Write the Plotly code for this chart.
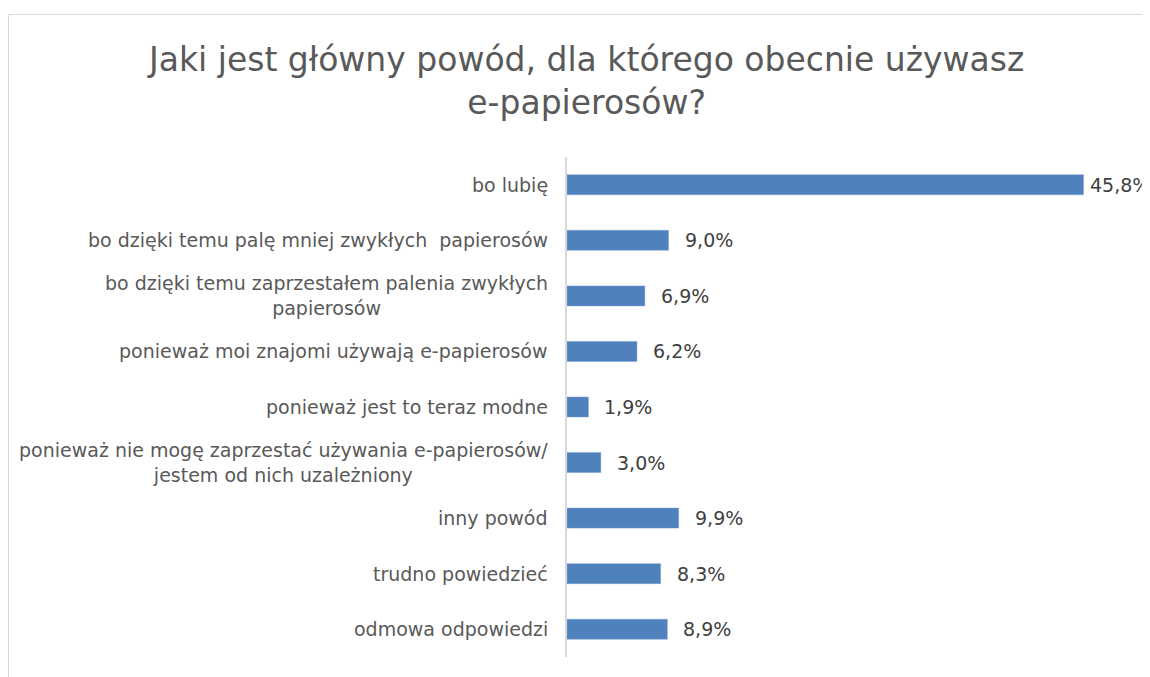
import plotly.graph_objects as go

title_text = "Jaki jest główny powód, dla którego obecnie używasz<br>e-papierosów?"
categories = [
    "bo lubię",
    "bo dzięki temu palę mniej zwykłych  papierosów",
    "bo dzięki temu zaprzestałem palenia zwykłych<br>papierosów",
    "ponieważ moi znajomi używają e-papierosów",
    "ponieważ jest to teraz modne",
    "ponieważ nie mogę zaprzestać używania e-papierosów/<br>jestem od nich uzależniony",
    "inny powód",
    "trudno powiedzieć",
    "odmowa odpowiedzi",
]
values = [45.8, 9.0, 6.9, 6.2, 1.9, 3.0, 9.9, 8.3, 8.9]

# page body has an 8px default margin; compensate
OFF = 8
W, H = 1150, 677
L = 567 - OFF
T = 157 - OFF
B = H - (657 - OFF)
R = 20
pw = W - L - R
ph = H - T - B
px_per_unit = (1084 - 567.5) / 45.8
xmax = pw / px_per_unit

FONT = "DejaVu Sans"

ids = list(range(len(categories)))

fig = go.Figure(go.Bar(
    x=values,
    y=ids,
    orientation="h",
    width=0.36,
    marker=dict(color="#4f81bd", line=dict(color="#7a9fd0", width=0.5)),
    hoverinfo="skip",
))


def px_to_paper_x(px):
    return (px - OFF - L) / pw


def px_to_paper_y(py):
    return (H - B - (py - OFF)) / ph


annotations = [dict(
    x=px_to_paper_x(585), xref="paper", xanchor="center",
    y=px_to_paper_y(81), yref="paper", yanchor="middle",
    text=title_text, showarrow=False, align="center",
    font=dict(family=FONT, size=33, color="#595959"),
)]
for i, (c, v) in enumerate(zip(categories, values)):
    annotations.append(dict(
        x=0, xref="paper", xanchor="right", xshift=-17,
        y=i, yref="y", yanchor="middle",
        text=c, showarrow=False, align="center",
        font=dict(family=FONT, size=19, color="#595959"),
    ))
    label = f"{v:.1f}".replace(".", ",") + "%"
    annotations.append(dict(
        x=v, xref="x", xanchor="left", xshift=(4 if v == max(values) else 14),
        y=i, yref="y", yanchor="middle",
        text=label, showarrow=False,
        font=dict(family=FONT, size=19, color="#404040"),
    ))

fig.update_layout(
    width=W, height=H,
    margin=dict(l=L, r=R, t=T, b=B),
    paper_bgcolor="white",
    plot_bgcolor="white",
    showlegend=False,
    xaxis=dict(range=[0, xmax], showgrid=False, zeroline=False,
               showticklabels=False, ticks="", showline=False, fixedrange=True),
    yaxis=dict(range=[len(categories) - 0.5, -0.5], showgrid=False, zeroline=False,
               showticklabels=False, ticks="", showline=True,
               linecolor="#d9d9d9", linewidth=1.5, tickmode="array", tickvals=ids),
    annotations=annotations,
    shapes=[dict(
        type="rect", xref="paper", yref="paper",
        x0=px_to_paper_x(8.5), x1=px_to_paper_x(1170),
        y0=px_to_paper_y(700), y1=px_to_paper_y(14.5),
        line=dict(color="#d9d9d9", width=1), fillcolor="rgba(0,0,0,0)",
        layer="below",
    )],
)

fig.write_html("out.html")
